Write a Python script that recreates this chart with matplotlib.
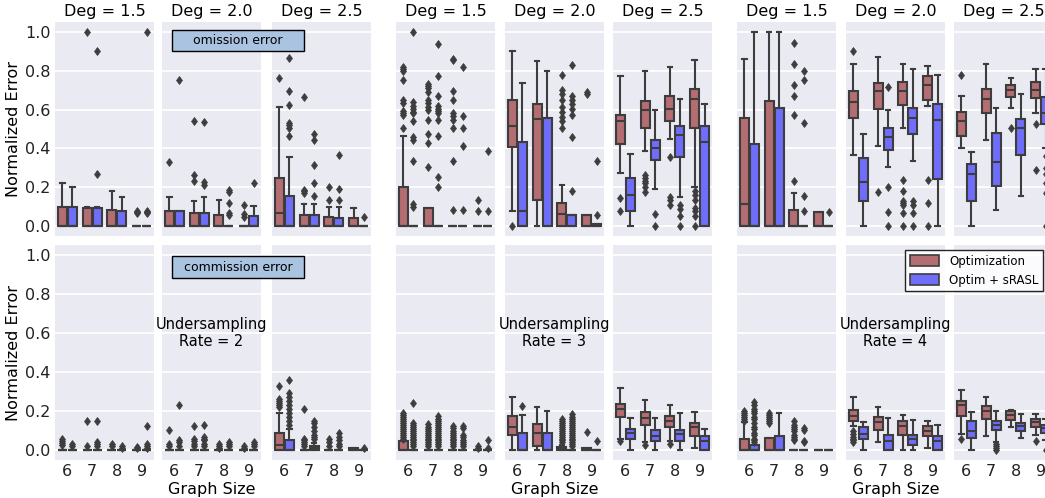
import matplotlib.pyplot as plt
from matplotlib.patches import Rectangle, Patch

sizes = [6, 7, 8, 9]
degrees = ['1.5', '2.0', '2.5']
rates = [2, 3, 4]
methods = ['Optimization', 'Optim + sRASL']
colors = ['#b46e72', '#6e6efa']

# box stats per graph size 6..9: (whisker low, q1, median, q3, whisker high, outliers)
# --- omission error (top row) ---
om_r2_d15_opt = [(0, 0, 0, .10, .22, []), (0, 0, 0, .095, .10, [1.0]),
                 (0, 0, 0, .085, .18, []), (0, 0, 0, 0, 0, [.07, .075, .08])]
om_r2_d15_srasl = [(0, 0, 0, .10, .20, []), (0, 0, 0, .092, .10, [.9, .27]),
                   (0, 0, 0, .08, .153, []), (0, 0, 0, 0, 0, [.07, .075, .08, 1.0])]
om_r2_d20_opt = [(0, 0, 0, .08, .153, [.33]), (0, 0, 0, .066, .128, [.54, .264, .235]),
                 (0, 0, 0, .06, .135, []), (0, 0, 0, 0, 0, [.107, .063, .05])]
om_r2_d20_srasl = [(0, 0, 0, .08, .08, [.75]), (0, 0, 0, .066, .153, [.537, .23, .213]),
                   (0, 0, 0, 0, 0, [.184, .174, .12, .068, .056]), (0, 0, 0, .053, .106, [.223])]
om_r2_d25_opt = [(0, 0, .068, .249, .613, [.763]), (0, 0, 0, .06, .116, [.666, .187, .18, .17]),
                 (0, 0, 0, .046, .097, [.2, .136]), (0, 0, 0, .045, .092, [])]
om_r2_d25_srasl = [(0, 0, 0, .158, .358, [.865, .695, .625, .533, .52, .503, .465]),
                   (0, 0, 0, .06, .116, [.472, .443, .315, .223, .158]),
                   (0, 0, 0, .045, .10, [.365, .19, .136]), (0, 0, 0, 0, 0, [.048])]

om_r3_d15_opt = [(0, 0, 0, .20, .465, [.818, .81, .80, .753, .647, .635, .59, .58, .57, .506]),
                 (0, 0, 0, .092, .092, [.733, .72, .712, .69, .65, .635, .613, .60, .545, .474, .43, .307]),
                 (0, 0, 0, 0, 0, [.86, .855, .695, .647, .58, .566, .545, .506, .336, .085]),
                 (0, 0, 0, 0, 0, [.136, .077])]
om_r3_d15_srasl = [(0, 0, 0, 0, 0, [1.0, .64, .62, .605, .588, .58, .54, .46, .443, .336, .116, .10]),
                   (0, 0, 0, 0, 0, [.937, .77, .668, .617, .605, .59, .58, .545, .465, .255, .204]),
                   (0, 0, 0, 0, 0, [.818, .566, .503, .414, .082]),
                   (0, 0, 0, 0, 0, [.387, .077])]
om_r3_d20_opt = [(.08, .407, .514, .647, .903, [0.0]), (0, .135, .55, .63, .852, []),
                 (0, 0, .063, .121, .213, [.78, .702, .681, .651, .613, .588, .562, .54, .506]),
                 (0, 0, 0, .056, .056, [.69, .68])]
om_r3_d20_srasl = [(0, 0, .08, .431, .738, []), (0, 0, .557, .557, .80, []),
                   (0, 0, .06, .06, .06, [.83, .668, .65, .63, .605, .57, .457, .179]),
                   (0, 0, 0, .014, .014, [.336, .056])]
om_r3_d25_opt = [(.276, .422, .54, .574, .77, [.145, .08]),
                 (.387, .503, .596, .642, .80, [.264, .25, .235, .22, .20, .175]),
                 (.45, .543, .605, .668, .821, [.358, .15, .136, .11]),
                 (.204, .503, .652, .707, .855, [.179, .162, .136, .094, .077, .051, 0.0])]
om_r3_d25_srasl = [(0, .08, .162, .247, .371, []), (.19, .339, .40, .441, .596, [.063, 0.0]),
                   (.148, .358, .468, .516, .656, [.107, .089, .051, 0.0]),
                   (0, 0, .434, .516, .627, [])]

om_r4_d15_opt = [(0, 0, .114, .557, .86, []), (0, 0, 0, .644, 1.0, []),
                 (0, 0, 0, .085, .17, [.942, .835, .728, .668, .57, .233]),
                 (0, 0, 0, .073, .073, [])]
om_r4_d15_srasl = [(0, 0, 0, .421, 1.0, []), (0, 0, 0, .61, 1.0, []),
                   (0, 0, 0, 0, 0, [.80, .753, .531, .157, .08]), (0, 0, 0, 0, 0, [.073])]
om_r4_d20_opt = [(.366, .559, .639, .695, .835, [.90]), (.414, .605, .695, .738, .869, [.174]),
                 (.503, .622, .693, .744, .835, [.238, .179, .128, .119, .11, .068, 0.0]),
                 (.618, .651, .727, .772, .826, [.238, .119, 0.0])]
om_r4_d20_srasl = [(0, .131, .225, .353, .472, []), (.303, .392, .457, .503, .596, [.716, .204, .072, 0.0]),
                   (.336, .472, .557, .608, .809, [.128, .11, .068, 0.0]),
                   (0, .242, .545, .627, .775, [])]
om_r4_d25_opt = [(.404, .465, .54, .588, .668, [.78]), (.446, .58, .652, .707, .835, []),
                 (.608, .664, .70, .724, .761, [.503]), (.58, .66, .698, .741, .806, [.525, .29])]
om_r4_d25_srasl = [(0, .128, .267, .319, .383, []), (.085, .208, .329, .48, .61, []),
                   (.157, .366, .503, .55, .678, []),
                   (.40, .525, .583, .664, .81, [.36, .30, .27, .22, .17, 0.0])]

# --- commission error (bottom row) ---
cm_r2_d15_opt = [(0, 0, 0, 0, 0, [.055, .045, .035, .025]), (0, 0, 0, 0, 0, [.148, .02]),
                 (0, 0, 0, 0, 0, [.03, .02]), (0, 0, 0, 0, 0, [.015, .01])]
cm_r2_d15_srasl = [(0, 0, 0, 0, 0, [.03, .02]), (0, 0, 0, 0, 0, [.148, .043, .03, .02]),
                   (0, 0, 0, 0, 0, [.02, .01]), (0, 0, 0, 0, 0, [.123, .03, .02, .01])]
cm_r2_d20_opt = [(0, 0, 0, 0, 0, [.102, .03, .02]), (0, 0, 0, 0, 0, [.123, .055, .045, .03, .02]),
                 (0, 0, 0, 0, 0, [.03, .02, .01]), (0, 0, 0, 0, 0, [.02, .01])]
cm_r2_d20_srasl = [(0, 0, 0, 0, 0, [.23, .05, .04, .02]), (0, 0, 0, 0, 0, [.13, .07, .06, .05, .03, .02]),
                   (0, 0, 0, 0, 0, [.04, .03, .02]), (0, 0, 0, 0, 0, [.04, .03, .02])]
cm_r2_d25_opt = [(0, 0, .026, .089, .19, [.327, .26, .25, .24, .23, .22]),
                 (0, 0, 0, 0, 0, [.213, .06, .05, .04, .03, .02]),
                 (0, 0, 0, 0, 0, [.055, .04, .02]), (0, 0, 0, .009, .009, [])]
cm_r2_d25_srasl = [(0, 0, 0, .05, .11, [.361, .293, .27, .25, .23, .21, .19, .17, .15, .13]),
                   (0, 0, .01, .02, .037, [.152, .14, .12, .10, .08, .07, .06]),
                   (0, 0, 0, 0, 0, [.089, .07, .05, .03, .02]), (0, 0, 0, 0, 0, [.01])]

cm_r3_d15_opt = [(0, 0, 0, .046, .046, [.19, .18, .17, .16, .15, .14, .13, .12, .11, .10, .09, .08, .07, .06]),
                 (0, 0, 0, 0, 0, [.135, .12, .11, .10, .09, .08, .07, .06, .05, .04, .03, .02]),
                 (0, 0, 0, 0, 0, [.126, .115, .10, .09, .08, .07, .06, .05, .04, .03, .02]),
                 (0, 0, 0, 0, 0, [.02, .01])]
cm_r3_d15_srasl = [(0, 0, 0, 0, 0, [.242, .14, .13, .12, .11, .10, .09, .08, .07, .06, .05, .04, .03, .02]),
                   (0, 0, 0, 0, 0, [.174, .16, .15, .14, .13, .12, .11, .10, .09, .08, .07, .06, .05, .04, .03, .02]),
                   (0, 0, 0, 0, 0, [.123, .115, .08, .07, .05, .04, .03, .02]),
                   (0, 0, 0, 0, 0, [.051, .01])]
cm_r3_d20_opt = [(0, .077, .12, .177, .27, []), (0, .02, .089, .136, .221, []),
                 (0, 0, .005, .017, .029, [.162, .15, .14, .13, .12, .11, .10, .09, .08, .07, .06, .05, .04]),
                 (0, 0, 0, .012, .012, [.094])]
cm_r3_d20_srasl = [(0, 0, 0, .089, .179, [.225]), (0, 0, 0, .089, .199, []),
                   (0, 0, 0, 0, 0, [.187, .17, .16, .15, .14, .13, .12, .11, .10, .09, .08, .07, .06, .05, .04, .03, .02]),
                   (0, 0, 0, 0, 0, [.046])]
cm_r3_d25_opt = [(.055, .169, .213, .238, .319, [.045]), (.043, .131, .165, .194, .259, [.026]),
                 (.046, .119, .148, .174, .23, [.03]), (.012, .072, .117, .14, .194, [])]
cm_r3_d25_srasl = [(0, .058, .089, .109, .165, []), (0, .049, .072, .102, .165, []),
                   (0, .049, .083, .106, .19, []), (0, 0, .049, .075, .109, [])]

cm_r4_d15_opt = [(0, 0, 0, .058, .143, [.199, .19, .18, .17, .16, .15]),
                 (0, 0, 0, .063, .063, [.19, .18, .17, .16, .15, .14]),
                 (0, 0, 0, 0, 0, [.148, .13, .12, .11, .10, .08, .07, .06, .05]),
                 (0, 0, 0, 0, 0, [])]
cm_r4_d15_srasl = [(0, 0, 0, .029, .029, [.245, .23, .21, .20, .19, .17, .16, .14, .12, .11, .09, .08, .06, .05, .04]),
                   (0, 0, 0, .072, .19, []),
                   (0, 0, 0, 0, 0, [.114, .105, .049, .04]), (0, 0, 0, 0, 0, [])]
cm_r4_d20_opt = [(.123, .152, .177, .204, .27, [.097, .083, .07, .06, .05, .041]),
                 (.043, .102, .143, .17, .22, []), (0, .08, .123, .148, .179, []),
                 (.012, .075, .10, .123, .148, [])]
cm_r4_d20_srasl = [(0, .055, .083, .117, .145, []), (0, 0, .046, .077, .165, []),
                   (0, .029, .055, .077, .153, []), (0, 0, .049, .072, .128, [])]
cm_r4_d25_opt = [(.083, .174, .23, .254, .31, [.055]), (.075, .16, .20, .225, .27, []),
                 (.117, .157, .18, .199, .208, []), (.08, .119, .143, .162, .187, [.046])]
cm_r4_d25_srasl = [(0, .063, .097, .148, .194, []), (.043, .102, .128, .148, .20, [.03, .02, .01, 0.0]),
                   (.063, .10, .123, .14, .187, []), (.05, .089, .114, .128, .16, [0.0])]

# [rate][degree][method]
omission = [
    [[om_r2_d15_opt, om_r2_d15_srasl], [om_r2_d20_opt, om_r2_d20_srasl], [om_r2_d25_opt, om_r2_d25_srasl]],
    [[om_r3_d15_opt, om_r3_d15_srasl], [om_r3_d20_opt, om_r3_d20_srasl], [om_r3_d25_opt, om_r3_d25_srasl]],
    [[om_r4_d15_opt, om_r4_d15_srasl], [om_r4_d20_opt, om_r4_d20_srasl], [om_r4_d25_opt, om_r4_d25_srasl]],
]
commission = [
    [[cm_r2_d15_opt, cm_r2_d15_srasl], [cm_r2_d20_opt, cm_r2_d20_srasl], [cm_r2_d25_opt, cm_r2_d25_srasl]],
    [[cm_r3_d15_opt, cm_r3_d15_srasl], [cm_r3_d20_opt, cm_r3_d20_srasl], [cm_r3_d25_opt, cm_r3_d25_srasl]],
    [[cm_r4_d15_opt, cm_r4_d15_srasl], [cm_r4_d20_opt, cm_r4_d20_srasl], [cm_r4_d25_opt, cm_r4_d25_srasl]],
]

W, H = 1045, 498
fig = plt.figure(figsize=(W / 100, H / 100), dpi=100)

# panel placement in pixels
col_left = [55, 162, 272, 396, 505, 613, 737, 846, 954]
col_w = 99
row_px = [(22, 236), (245, 460)]
edge = '#3d3d3d'


def to_stats(rows):
    return [dict(whislo=r[0], q1=r[1], med=r[2], q3=r[3], whishi=r[4], fliers=r[5]) for r in rows]


for ri, data in enumerate([omission, commission]):
    top, bot = row_px[ri]
    for g in range(3):
        for d in range(3):
            c = g * 3 + d
            ax = fig.add_axes([col_left[c] / W, 1 - bot / H, col_w / W, (bot - top) / H])
            ax.set_facecolor('#eaeaf2')
            for s in ax.spines.values():
                s.set_visible(False)
            ax.grid(axis='y', color='white', lw=1.3)
            ax.set_axisbelow(True)
            for m in range(2):
                ax.bxp(to_stats(data[g][d][m]), positions=[i - 0.2 + 0.4 * m for i in range(4)],
                       widths=0.36, patch_artist=True, manage_ticks=False,
                       boxprops=dict(facecolor=colors[m], edgecolor=edge, lw=1.5),
                       medianprops=dict(color=edge, lw=1.5),
                       whiskerprops=dict(color=edge, lw=1.5),
                       capprops=dict(color=edge, lw=1.5),
                       flierprops=dict(marker='d', markerfacecolor=edge, markeredgecolor=edge,
                                       markersize=4.5, markeredgewidth=0.5, linestyle='none'))
            ax.set_xlim(-0.5, 3.5)
            ax.set_ylim(-0.05, 1.05)
            ax.set_yticks([0, .2, .4, .6, .8, 1.0])
            ax.set_xticks(range(4))
            ax.tick_params(length=0, labelsize=11.5, pad=3, labelcolor='#222222')
            if ri == 0:
                ax.set_xticklabels([])
                ax.set_title('Deg = ' + degrees[d], fontsize=11.5, pad=4)
            else:
                ax.set_xticklabels([str(s) for s in sizes])
                if d == 1:
                    ax.set_xlabel('Graph Size', fontsize=11.5, labelpad=2)
            if c == 0:
                ax.set_yticklabels(['0.0', '0.2', '0.4', '0.6', '0.8', '1.0'])
                ax.set_ylabel('Normalized Error', fontsize=11.5, labelpad=3)
            else:
                ax.set_yticklabels([])
            if d == 1:
                ax.set_zorder(3)
                if ri == 1:
                    ax.text(1.5, 0.6, 'Undersampling\nRate = %d' % rates[g], ha='center',
                            va='center', fontsize=10.5)
                if g == 0:
                    name = 'omission error' if ri == 0 else 'commission error'
                    y0 = 0.864 if ri == 0 else 0.847
                    ax.add_patch(Rectangle((0.101, y0), 1.333, 0.10, transform=ax.transAxes,
                                           facecolor='#aac3e0', edgecolor='black', lw=1,
                                           clip_on=False, zorder=5))
                    ax.text(0.768, y0 + 0.05, name, transform=ax.transAxes, ha='center',
                            va='center', fontsize=9, zorder=6)
                if g == 2 and ri == 1:
                    handles = [Patch(facecolor=colors[m], edgecolor=edge, lw=1.2) for m in range(2)]
                    ax.legend(handles, methods, loc='upper right', fontsize=8.5,
                              bbox_to_anchor=(1043 / W, 1 - 250 / H),
                              bbox_transform=fig.transFigure, fancybox=False,
                              edgecolor='black', framealpha=0.85, borderaxespad=0,
                              handlelength=2.5, handleheight=1.0)

fig.savefig('out.png', dpi=100)
